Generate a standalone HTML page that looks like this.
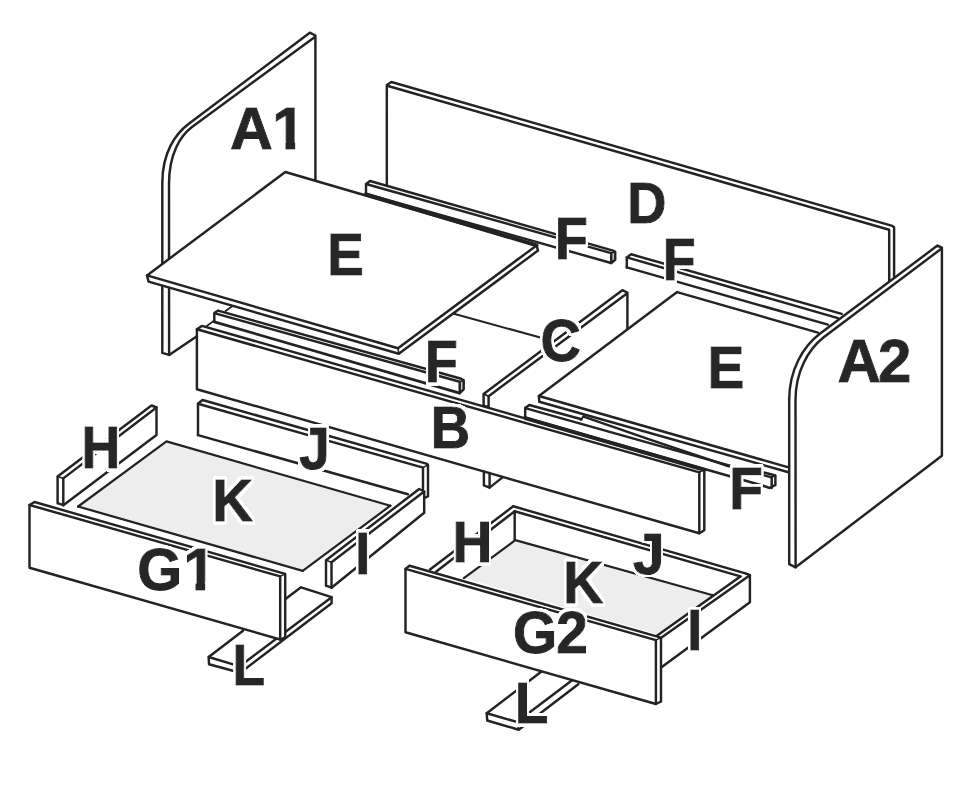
<!DOCTYPE html>
<html><head><meta charset="utf-8"><title>Assembly diagram</title>
<style>
html,body{margin:0;padding:0;background:#fff;}
svg{display:block}
text{font-family:"Liberation Sans",sans-serif;font-weight:bold;font-size:100px;fill:#272727;stroke:#272727;stroke-linejoin:miter;filter:url(#halo)}
path{stroke-linejoin:round;stroke-linecap:round}
</style></head><body>
<svg width="970" height="788" viewBox="0 0 970 788">
<filter id="halo" x="-30%" y="-30%" width="160%" height="160%"><feMorphology in="SourceAlpha" operator="dilate" radius="4.3" result="d"/><feGaussianBlur in="d" stdDeviation="1.2" result="b"/><feComponentTransfer in="b" result="m"><feFuncA type="linear" slope="6" intercept="-2"/></feComponentTransfer><feFlood flood-color="#fff"/><feComposite in2="m" operator="in" result="h"/><feMerge><feMergeNode in="h"/><feMergeNode in="SourceGraphic"/></feMerge></filter>
<rect width="970" height="788" fill="#fff"/>
<path d="M386.8,186.0 L386.8,85.0 L391.4,82.0 L892.3,225.9 L894.1,227.2 L894.1,290.0" fill="none" stroke="#232323" stroke-width="2.45" />
<path d="M387.2,85.8 L889.2,229.8 L889.2,292.0" fill="none" stroke="#232323" stroke-width="2.45" />
<path d="M315.4,180 L315.4,35.5 L309.8,32.7 L188.5,124 C176,133.4 162.3,152 162.3,183 L162.3,352.9 L169.1,354.9 L198,335.4" fill="none" stroke="#232323" stroke-width="2.45"/>
<path d="M314.5,37.2 L192,127 C181,135.2 169,153 169,184 L169.1,354.9" fill="none" stroke="#232323" stroke-width="2.45"/>
<path d="M366.0,184.0 L370.0,181.0 L613.0,250.6 L615.2,251.8 L615.2,259.9 L611.2,263.0 L366.0,193.9 Z" fill="#fff" stroke="none"/>
<path d="M611.2,253.1 L615.2,251.8 L615.2,259.9 L611.2,263.0 Z" fill="#c4c4c4" stroke="none"/>
<path d="M366.0,193.9 L366.0,184.0 L370.0,181.0 L613.0,250.6 L615.2,251.8 L615.2,259.9 L611.2,263.0 L611.2,253.1 L366.0,184.0" fill="none" stroke="#232323" stroke-width="2.45" />
<path d="M611.2,253.1 L615.2,251.8" fill="none" stroke="#232323" stroke-width="1.6" />
<path d="M366.0,193.9 L611.2,263.0" fill="none" stroke="#232323" stroke-width="2.45" />
<path d="M626.8,257.4 L631.1,254.3 L841.7,313.9 L827.9,324.6 L626.8,267.4 Z" fill="#fff" stroke="none"/>
<path d="M626.8,267.4 L626.8,257.4 L631.1,254.3 L841.7,313.9" fill="none" stroke="#232323" stroke-width="2.45" />
<path d="M626.8,257.4 L837.9,318.1" fill="none" stroke="#232323" stroke-width="2.45" />
<path d="M626.8,267.4 L827.9,324.6" fill="none" stroke="#232323" stroke-width="2.45" />
<path d="M627.4,329.0 L627.4,292.6 L622.3,290.2 L483.6,393.9 L483.6,405.6 L488.6,407.2 L488.6,396.2 L626.6,293.8" fill="none" stroke="#232323" stroke-width="2.45" />
<path d="M483.6,393.9 L488.6,396.2" fill="none" stroke="#232323" stroke-width="1.8" />
<path d="M453.9,313.8 L540.3,337.6" fill="none" stroke="#232323" stroke-width="2.1" />
<path d="M285.3,172.0 L147.0,275.4 L148.6,281.6 L398.8,353.8 L538.0,250.6 L536.6,245.4 Z" fill="#fff" stroke="none"/>
<path d="M285.3,172.0 L147.0,275.4 L398.0,348.2 L536.6,245.4 Z" fill="none" stroke="#232323" stroke-width="2.45" />
<path d="M147.0,275.4 L148.6,281.6 L398.8,353.8 L538.0,250.6 L536.6,245.4" fill="none" stroke="#232323" stroke-width="2.45" />
<path d="M398.0,348.2 L398.8,353.8" fill="none" stroke="#232323" stroke-width="1.6" />
<path d="M366.0,194.3 L536.6,245.4" fill="none" stroke="#232323" stroke-width="3.9" />
<path d="M677.1,292.1 L538.9,396.0 L539.3,401.8 L789.0,472.6 L830.0,340.0 L817.9,332.6 Z" fill="#fff" stroke="none"/>
<path d="M817.9,332.6 L677.1,292.1 L538.9,396.0 L788.5,467.4" fill="none" stroke="#232323" stroke-width="2.45" />
<path d="M538.9,396.0 L539.3,401.8 L788.5,472.2" fill="none" stroke="#232323" stroke-width="2.45" />
<path d="M214.3,313.1 L218.1,310.6 L461.2,378.7 L463.7,380.2 L463.7,389.3 L459.7,393.1 L214.3,321.8 Z" fill="#fff" stroke="none"/>
<path d="M459.7,381.8 L463.7,380.2 L463.7,389.3 L459.7,393.1 Z" fill="#c4c4c4" stroke="none"/>
<path d="M214.3,321.8 L214.3,313.1 L218.1,310.6 L461.2,378.7 L463.7,380.2 L463.7,389.3 L459.7,393.1 L459.7,381.8 L214.3,313.1" fill="none" stroke="#232323" stroke-width="2.45" />
<path d="M459.7,381.8 L463.7,380.2" fill="none" stroke="#232323" stroke-width="1.6" />
<path d="M214.3,321.8 L459.7,393.1" fill="none" stroke="#232323" stroke-width="2.8" />
<path d="M225.6,311.0 L231.8,306.5" fill="none" stroke="#232323" stroke-width="1.8" />
<path d="M205.6,327.0 L214.3,320.4" fill="none" stroke="#232323" stroke-width="1.8" />
<path d="M525.2,408.1 L529.3,405.0 L766.1,473.0 L775.4,475.5 L775.4,484.9 L769.8,488.0 L525.2,417.7 Z" fill="#fff" stroke="none"/>
<path d="M525.2,417.7 L525.2,408.1 L529.3,405.0 L581.5,419.2" fill="none" stroke="#232323" stroke-width="2.45" />
<path d="M580.6,419.8 L583.6,416.3" fill="none" stroke="#232323" stroke-width="1.8" />
<path d="M583.6,416.6 L650.0,439.6 L728.0,466.0 L766.1,473.0 L775.4,475.5 L775.4,484.9 L769.8,488.0 L762.3,485.5" fill="none" stroke="#232323" stroke-width="2.45" />
<path d="M771.7,477.4 L771.7,488.0" fill="none" stroke="#232323" stroke-width="2.45" />
<path d="M771.7,477.4 L775.4,475.5" fill="none" stroke="#232323" stroke-width="1.6" />
<path d="M525.2,408.1 L771.7,477.4" fill="none" stroke="#232323" stroke-width="2.45" />
<path d="M525.2,417.7 L762.3,485.5" fill="none" stroke="#232323" stroke-width="2.45" />
<path d="M196.9,329.3 L201.9,325.9 L704.3,469.6 L704.3,530.3 L699.3,533.3 L196.9,389.2 Z" fill="#fff" stroke="none"/>
<path d="M196.9,329.3 L201.9,325.9 L704.3,469.6 L704.3,530.3 L699.3,533.3 L196.9,389.2 Z" fill="none" stroke="#232323" stroke-width="2.45" />
<path d="M196.9,329.3 L699.3,472.4 L699.3,533.3" fill="none" stroke="#232323" stroke-width="2.45" />
<path d="M699.3,472.4 L704.3,469.6" fill="none" stroke="#232323" stroke-width="1.6" />
<path d="M525.2,418.1 L704.3,469.8" fill="none" stroke="#232323" stroke-width="4.0" />
<path d="M483.9,471.5 L483.9,485.4 L489.6,487.6 L489.6,473.0" fill="none" stroke="#232323" stroke-width="2.45" />
<path d="M489.6,487.6 L502.2,477.6" fill="none" stroke="#232323" stroke-width="2.45" />
<path d="M941.9,455.8 L941.9,247.6 L937.4,245.6 L820.5,333.3 C803,346.3 789.2,370 789.2,400 L789.2,564.1 L795.6,567.3 L941.9,455.8 Z" fill="#fff" stroke="none"/>
<path d="M941.9,455.8 L941.9,247.6 L937.4,245.6 L820.5,333.3 C803,346.3 789.2,370 789.2,400 L789.2,564.1 L795.6,567.3 L941.9,455.8" fill="none" stroke="#232323" stroke-width="2.45"/>
<path d="M941.6,248.5 L823.7,337.2 C808,349.5 795.5,372 795.5,400 L795.6,567.3" fill="none" stroke="#232323" stroke-width="2.45"/>
<path d="M57.6,476.4 L151.5,405.5 L156.5,407.5 L156.5,435.1 L63.3,505.2 L57.6,503.2 Z" fill="#fff" stroke="none"/>
<path d="M57.6,503.2 L57.6,476.4 L151.5,405.5 L156.5,407.5 L156.5,435.1 L63.3,505.2 L57.6,503.2" fill="none" stroke="#232323" stroke-width="2.45" />
<path d="M63.3,505.2 L63.3,478.4 L156.5,407.5" fill="none" stroke="#232323" stroke-width="2.45" />
<path d="M57.6,476.4 L63.3,478.4" fill="none" stroke="#232323" stroke-width="1.6" />
<path d="M198.0,403.8 L202.5,400.0 L426.3,463.6 L428.0,464.8 L428.0,496.3 L423.0,499.0 L198.0,435.1 Z" fill="#fff" stroke="none"/>
<path d="M198.0,435.1 L198.0,403.8 L202.5,400.0 L426.3,463.6 L428.0,464.8 L428.0,496.3 L425.2,497.6" fill="none" stroke="#232323" stroke-width="2.45" />
<path d="M198.0,403.8 L423.0,467.6 L423.0,489.0" fill="none" stroke="#232323" stroke-width="2.45" />
<path d="M423.0,467.6 L428.0,464.8" fill="none" stroke="#232323" stroke-width="1.6" />
<path d="M198.0,435.1 L407.9,494.2" fill="none" stroke="#232323" stroke-width="2.45" />
<path d="M166.5,441.4 L78.1,506.5 L302.7,570.9 L390.4,505.7 Z" fill="#ededed" stroke="none"/>
<path d="M78.1,506.5 L166.5,441.4 L390.4,505.7" fill="none" stroke="#232323" stroke-width="2.2" />
<path d="M326.0,560.3 L419.2,489.0 L424.2,491.5 L424.2,512.7 L331.5,587.7 L326.0,585.7 Z" fill="#fff" stroke="none"/>
<path d="M326.0,585.7 L326.0,560.3 L419.2,489.0 L424.2,491.5 L424.2,512.7 L331.5,587.7 L326.0,585.7" fill="none" stroke="#232323" stroke-width="2.45" />
<path d="M331.5,587.7 L331.5,562.3 L424.2,491.5" fill="none" stroke="#232323" stroke-width="2.45" />
<path d="M326.0,560.3 L331.5,562.3" fill="none" stroke="#232323" stroke-width="1.6" />
<path d="M302.7,570.9 L390.4,505.7" fill="none" stroke="#232323" stroke-width="2.2" />
<path d="M208.7,657.0 L243.0,630.7 L285.5,598.9 L301.0,587.3 L331.6,597.2 L331.6,603.3 L240.2,672.8 L209.0,664.3 Z" fill="#fff" stroke="none"/>
<path d="M285.5,598.9 L301.0,587.3 L331.6,597.2 L331.6,603.3 L240.2,672.8 L209.0,664.3 L208.7,657.0 L243.0,630.7" fill="none" stroke="#232323" stroke-width="2.45" />
<path d="M208.7,657.0 L239.7,666.3 L331.6,597.2" fill="none" stroke="#232323" stroke-width="2.45" />
<path d="M239.7,666.3 L240.2,672.8" fill="none" stroke="#232323" stroke-width="1.6" />
<path d="M29.5,505.0 L34.5,502.0 L285.2,573.9 L285.2,637.3 L280.2,639.5 L29.5,567.8 Z" fill="#fff" stroke="none"/>
<path d="M29.5,505.0 L34.5,502.0 L285.2,573.9 L285.2,637.3 L280.2,639.5 L29.5,567.8 Z" fill="none" stroke="#232323" stroke-width="2.45" />
<path d="M29.5,505.0 L280.2,576.4 L280.2,639.5" fill="none" stroke="#232323" stroke-width="2.45" />
<path d="M280.2,576.4 L285.2,573.9" fill="none" stroke="#232323" stroke-width="1.6" />
<path d="M78.1,506.5 L302.7,570.9" fill="none" stroke="#232323" stroke-width="2.2" />
<path d="M513.2,506.3 L745.4,573.4 L749.9,575.2 L749.9,602.2 L661.5,667.3 L514.7,540.0 Z" fill="#fff" stroke="none"/>
<path d="M513.2,506.3 L745.4,573.4 L749.9,575.2 L749.9,602.2 L661.5,667.3" fill="none" stroke="#232323" stroke-width="2.45" />
<path d="M514.7,511.3 L740.4,576.4" fill="none" stroke="#232323" stroke-width="2.45" />
<path d="M514.7,511.3 L514.7,540.0" fill="none" stroke="#232323" stroke-width="2.45" />
<path d="M515.3,540.1 L463.9,578.2 L656.5,634.0 L712.8,595.2 Z" fill="#ededed" stroke="none"/>
<path d="M463.9,578.2 L515.3,540.1 L712.8,595.2" fill="none" stroke="#232323" stroke-width="2.2" />
<path d="M430.0,569.5 L513.2,506.3" fill="none" stroke="#232323" stroke-width="2.45" />
<path d="M436.0,571.8 L514.7,511.3" fill="none" stroke="#232323" stroke-width="2.45" />
<path d="M749.9,575.2 L661.5,637.6" fill="none" stroke="#232323" stroke-width="2.45" />
<path d="M740.4,576.4 L656.5,636.0" fill="none" stroke="#232323" stroke-width="2.45" />
<path d="M745.4,573.4 L749.9,575.2" fill="none" stroke="#232323" stroke-width="1.6" />
<path d="M486.7,713.2 L541.2,671.8 L578.3,682.5 L518.7,729.7 L487.2,720.5 Z" fill="#fff" stroke="none"/>
<path d="M541.2,671.8 L486.7,713.2 L487.2,720.5 L518.7,729.7 L578.3,684.3" fill="none" stroke="#232323" stroke-width="2.45" />
<path d="M486.7,713.2 L516.8,721.9 L571.8,680.6" fill="none" stroke="#232323" stroke-width="2.45" />
<path d="M516.8,721.9 L518.7,729.7" fill="none" stroke="#232323" stroke-width="1.6" />
<path d="M405.5,568.9 L409.5,565.7 L661.0,637.6 L661.0,701.5 L655.9,704.0 L405.5,632.3 Z" fill="#fff" stroke="none"/>
<path d="M405.5,568.9 L409.5,565.7 L661.0,637.6 L661.0,701.5 L655.9,704.0 L405.5,632.3 Z" fill="none" stroke="#232323" stroke-width="2.45" />
<path d="M405.5,568.9 L655.9,640.1 L655.9,704.0" fill="none" stroke="#232323" stroke-width="2.45" />
<path d="M655.9,640.1 L661.0,637.6" fill="none" stroke="#232323" stroke-width="1.6" />
<text x="0 71.1" y="0" stroke-width="1.85" transform="translate(230.07,148.75) scale(0.5925,0.5945)">A1</text>
<text x="0" y="0" stroke-width="1.95" transform="translate(627.22,222.95) scale(0.5425,0.5828)">D</text>
<text x="0" y="0" stroke-width="1.96" transform="translate(555.05,259.05) scale(0.5375,0.5872)">F</text>
<text x="0" y="0" stroke-width="1.96" transform="translate(662.75,279.55) scale(0.5375,0.5828)">F</text>
<text x="0" y="0" stroke-width="1.93" transform="translate(327.28,275.45) scale(0.5482,0.5930)">E</text>
<text x="0" y="0" stroke-width="1.91" transform="translate(540.56,361.36) scale(0.5590,0.5946)">C</text>
<text x="0" y="0" stroke-width="1.96" transform="translate(425.05,381.75) scale(0.5375,0.5828)">F</text>
<text x="0" y="0" stroke-width="1.95" transform="translate(430.70,448.35) scale(0.5452,0.5858)">B</text>
<text x="0" y="0" stroke-width="1.92" transform="translate(707.55,387.55) scale(0.5518,0.5945)">E</text>
<text x="0 67.3" y="0" stroke-width="1.83" transform="translate(837.55,381.95) scale(0.6000,0.6047)">A2</text>
<text x="0" y="0" stroke-width="1.92" transform="translate(729.16,508.55) scale(0.5514,0.5945)">F</text>
<text x="0" y="0" stroke-width="1.96" transform="translate(81.55,468.15) scale(0.5366,0.5858)">H</text>
<text x="0" y="0" stroke-width="1.92" transform="translate(299.23,468.85) scale(0.5487,0.5960)">J</text>
<text x="0" y="0" stroke-width="1.91" transform="translate(212.28,520.75) scale(0.5621,0.5887)">K</text>
<text x="0 80.2" y="0" stroke-width="1.89" transform="translate(137.18,589.87) scale(0.5772,0.5847)">G1</text>
<text x="0" y="0" stroke-width="1.96" transform="translate(355.24,573.85) scale(0.5385,0.5858)">I</text>
<text x="0" y="0" stroke-width="1.97" transform="translate(232.59,685.15) scale(0.5312,0.5828)">L</text>
<text x="0" y="0" stroke-width="1.94" transform="translate(452.46,562.45) scale(0.5503,0.5828)">H</text>
<text x="0" y="0" stroke-width="1.92" transform="translate(632.90,573.77) scale(0.5657,0.5774)">J</text>
<text x="0" y="0" stroke-width="1.93" transform="translate(563.34,602.85) scale(0.5543,0.5843)">K</text>
<text x="0 76.5" y="0" stroke-width="1.91" transform="translate(512.93,653.07) scale(0.5668,0.5847)">G2</text>
<text x="0" y="0" stroke-width="1.97" transform="translate(687.24,649.55) scale(0.5385,0.5785)">I</text>
<text x="0" y="0" stroke-width="1.95" transform="translate(515.10,722.55) scale(0.5449,0.5828)">L</text>
<rect x="274.5" y="141.2" width="11.05" height="9.80" fill="#fff"/>
<rect x="295.15" y="141.2" width="10.35" height="9.80" fill="#fff"/>
<rect x="185.5" y="582.2" width="10.05" height="9.80" fill="#fff"/>
<rect x="205.15" y="582.2" width="10.35" height="9.80" fill="#fff"/>
</svg>
</body></html>
